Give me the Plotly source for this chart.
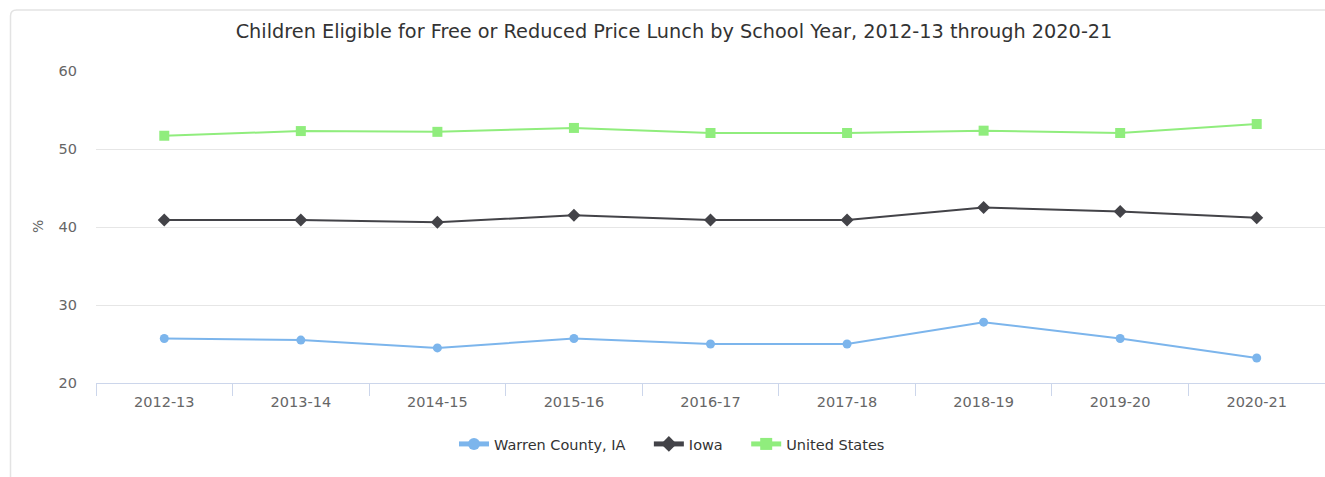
import plotly.graph_objects as go

# School years on the category axis
years = ["2012-13", "2013-14", "2014-15", "2015-16", "2016-17",
         "2017-18", "2018-19", "2019-20", "2020-21"]

# Share of children eligible for free or reduced price lunch (%)
warren_county = [25.7, 25.5, 24.5, 25.7, 25.0, 25.0, 27.8, 25.7, 23.2]
iowa = [40.9, 40.9, 40.6, 41.5, 40.9, 40.9, 42.5, 42.0, 41.2]
united_states = [51.7, 52.3, 52.2, 52.7, 52.05, 52.05, 52.35, 52.05, 53.2]

y_ticks = [20, 30, 40, 50, 60]

FONT = "DejaVu Sans"
W, H = 1325, 477
ML, MR, MT, MB = 96, 0, 71, 94
PW, PH = W - ML - MR, H - MT - MB


def px_x(px):
    return (px - ML) / PW


def px_y(py):
    return (H - MB - py) / PH


fig = go.Figure()

# extra non-breaking spaces widen the gap between legend entries
GAP = "\u00a0" * 4
series = [
    ("Warren County, IA" + GAP, warren_county, "#7cb5ec", "circle", 9),
    ("Iowa" + GAP, iowa, "#434348", "diamond", 10),
    ("United States", united_states, "#90ed7d", "square", 10),
]
for name, vals, color, symbol, size in series:
    fig.add_trace(go.Scatter(
        x=years, y=vals, name=name, mode="lines+markers",
        line=dict(color=color, width=2),
        marker=dict(symbol=symbol, size=size, color=color),
    ))

# Card outline (top and left edges with a rounded corner)
r = 6
x0, y0 = px_x(10.5), px_y(10)
xr, yr = px_x(10.5 + r), px_y(10 + r)
fig.add_shape(
    type="path", xref="paper", yref="paper",
    path=(f"M {x0},{px_y(H + 5)} L {x0},{yr} Q {x0},{y0} {xr},{y0} "
          f"L {px_x(W + 5)},{y0}"),
    line=dict(color="#e3e3e3", width=1.5), layer="below",
)

# Y-axis unit label
fig.add_annotation(
    text="%", xref="paper", yref="paper", x=px_x(38), y=px_y(227),
    xanchor="center", yanchor="middle", textangle=-90, showarrow=False,
    font=dict(family=FONT, size=14, color="#666666"),
)

fig.update_layout(
    width=W, height=H,
    margin=dict(l=ML, r=MR, t=MT, b=MB),
    paper_bgcolor="white", plot_bgcolor="white",
    font=dict(family=FONT, size=14.5, color="#666666"),
    title=dict(
        text="Children Eligible for Free or Reduced Price Lunch by School Year, 2012-13 through 2020-21",
        x=px_x(674), xref="paper", xanchor="center",
        y=1 - 31 / H, yanchor="middle",
        font=dict(family=FONT, size=19.3, color="#333333"),
    ),
    showlegend=True,
    legend=dict(
        orientation="h", x=px_x(672), xanchor="center", y=px_y(444), yanchor="middle",
        font=dict(family=FONT, size=14.5, color="#333333"),
        itemsizing="constant", traceorder="normal", itemwidth=30,
    ),
    xaxis=dict(
        type="category", tickson="boundaries", ticks="outside", ticklen=12,
        tickcolor="#ccd6eb", showline=True, linecolor="#ccd6eb", linewidth=1,
        showgrid=False, zeroline=False, range=[-0.5, 8.5],
        ticklabelstandoff=6,
        tickfont=dict(family=FONT, size=14.5, color="#666666"),
    ),
    yaxis=dict(
        range=[20, 60], tickvals=y_ticks, showgrid=True, gridcolor="#e6e6e6",
        gridwidth=1, zeroline=False, showline=False, ticks="",
        ticklabelstandoff=18,
        tickfont=dict(family=FONT, size=14.5, color="#666666"),
    ),
)

fig.write_html("out.html")
